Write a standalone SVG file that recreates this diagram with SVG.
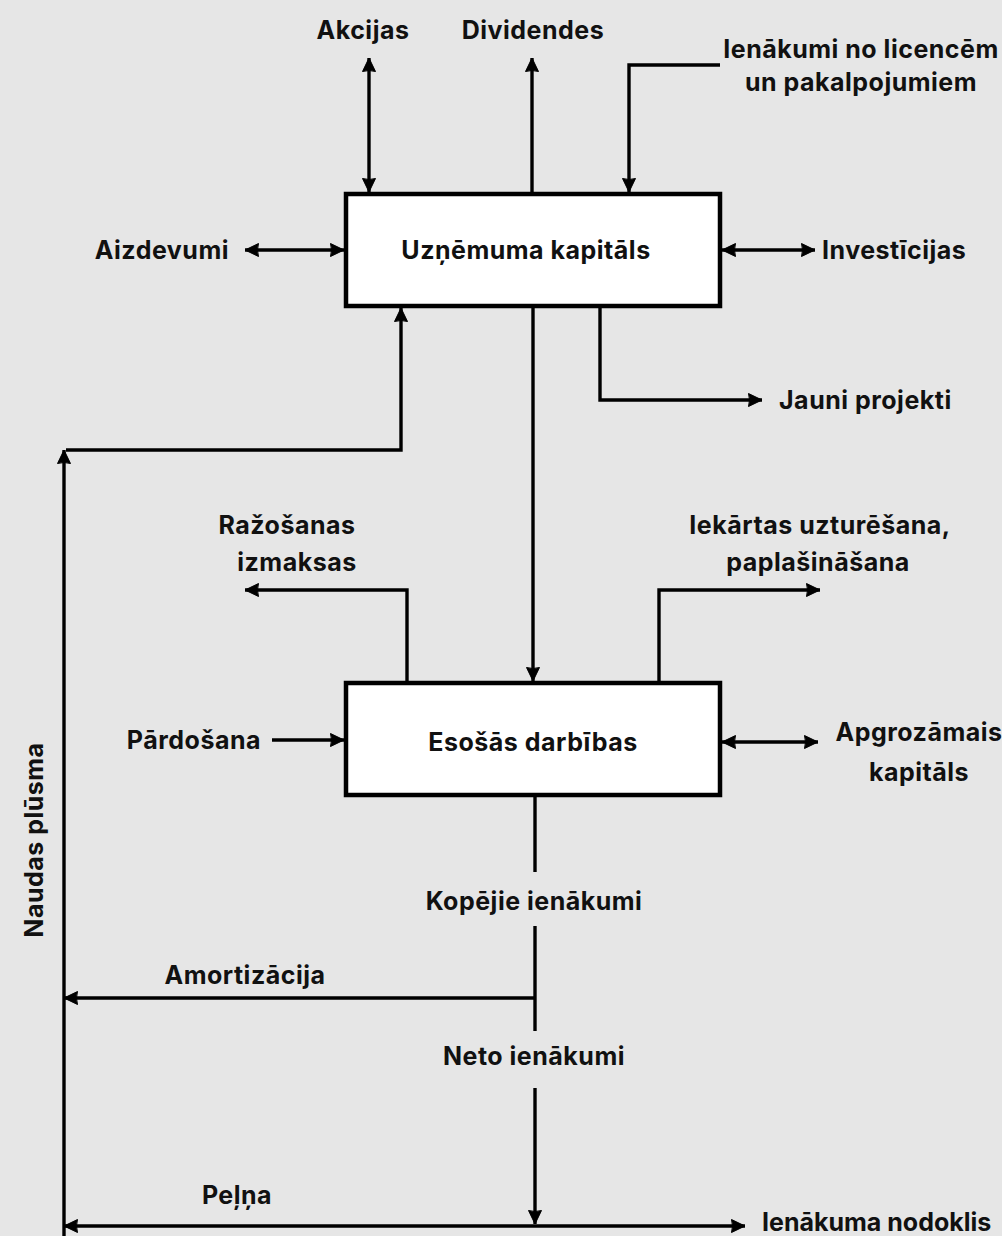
<svg xmlns="http://www.w3.org/2000/svg" width="1002" height="1236" viewBox="0 0 1002 1236">
<defs>
<style>
.bg{fill:#e6e6e6}
.box{fill:#ffffff;stroke:#000;stroke-width:4.5}
.ln{fill:none;stroke:#000;stroke-width:3.4}
.t{font-family:Inter,"Liberation Sans",sans-serif;font-weight:700;font-size:25px;letter-spacing:0.5px;fill:#111}
.m{text-anchor:middle}
.e{text-anchor:end}
</style>
<marker id="ah" viewBox="0 0 16 16" refX="15" refY="8" markerWidth="16" markerHeight="16" markerUnits="userSpaceOnUse" orient="auto-start-reverse">
<path d="M1.5,1.5 L15,8 L1.5,14.5 Q3.5,8 1.5,1.5 z" fill="#000" stroke="#000" stroke-width="1" stroke-linejoin="round"/>
</marker>
</defs>
<rect class="bg" x="0" y="0" width="1002" height="1236"/>

<g id="connectors">
<path class="ln" d="M369,58 V192" marker-start="url(#ah)" marker-end="url(#ah)"/>
<path class="ln" d="M532,194 V58" marker-end="url(#ah)"/>
<path class="ln" d="M720,65 H629 V192" marker-end="url(#ah)"/>
<path class="ln" d="M245,250 H344" marker-start="url(#ah)" marker-end="url(#ah)"/>
<path class="ln" d="M722,250 H815" marker-start="url(#ah)" marker-end="url(#ah)"/>
<path class="ln" d="M600,306 V400 H762" marker-end="url(#ah)"/>
<path class="ln" d="M64,1236 V450" marker-end="url(#ah)"/>
<path class="ln" d="M66,450 H401 V308" marker-end="url(#ah)"/>
<path class="ln" d="M533,306 V681" marker-end="url(#ah)"/>
<path class="ln" d="M407,683 V590 H245" marker-end="url(#ah)"/>
<path class="ln" d="M659,683 V590 H820" marker-end="url(#ah)"/>
<path class="ln" d="M272,740 H344" marker-end="url(#ah)"/>
<path class="ln" d="M722,742 H818" marker-start="url(#ah)" marker-end="url(#ah)"/>
<path class="ln" d="M535,795 V872"/>
<path class="ln" d="M535,926 V1031"/>
<path class="ln" d="M535,998 H64" marker-end="url(#ah)"/>
<path class="ln" d="M535,1088 V1224" marker-end="url(#ah)"/>
<path class="ln" d="M64,1226 H745" marker-start="url(#ah)" marker-end="url(#ah)"/>
</g>

<g id="node-kapitals">
<rect class="box" x="346" y="194" width="374" height="112"/>
<text class="t m" x="526" y="259">Uzņēmuma kapitāls</text>
</g>
<g id="node-darbibas">
<rect class="box" x="346" y="683" width="374" height="112"/>
<text class="t m" x="533" y="751">Esošās darbības</text>
</g>

<g id="labels">
<text class="t m" x="363" y="39">Akcijas</text>
<text class="t m" x="533" y="39">Dividendes</text>
<text class="t m" x="861" y="58">Ienākumi no licencēm</text>
<text class="t m" x="861" y="91">un pakalpojumiem</text>
<text class="t e" x="229" y="259">Aizdevumi</text>
<text class="t" x="822" y="259">Investīcijas</text>
<text class="t" x="779" y="409">Jauni projekti</text>
<text class="t m" x="287" y="534">Ražošanas</text>
<text class="t m" x="297" y="571">izmaksas</text>
<text class="t m" x="820" y="534">Iekārtas uzturēšana,</text>
<text class="t m" x="818" y="571">paplašināšana</text>
<text class="t e" x="261" y="749">Pārdošana</text>
<text class="t m" x="919" y="741">Apgrozāmais</text>
<text class="t m" x="919" y="781">kapitāls</text>
<text class="t m" x="534" y="910">Kopējie ienākumi</text>
<text class="t m" x="245" y="984">Amortizācija</text>
<text class="t m" x="534" y="1065">Neto ienākumi</text>
<text class="t m" x="237" y="1204">Peļņa</text>
<text class="t" x="762" y="1231" style="letter-spacing:0">Ienākuma nodoklis</text>
<text class="t m" transform="translate(43,840) rotate(-90)">Naudas plūsma</text>
</g>
</svg>
